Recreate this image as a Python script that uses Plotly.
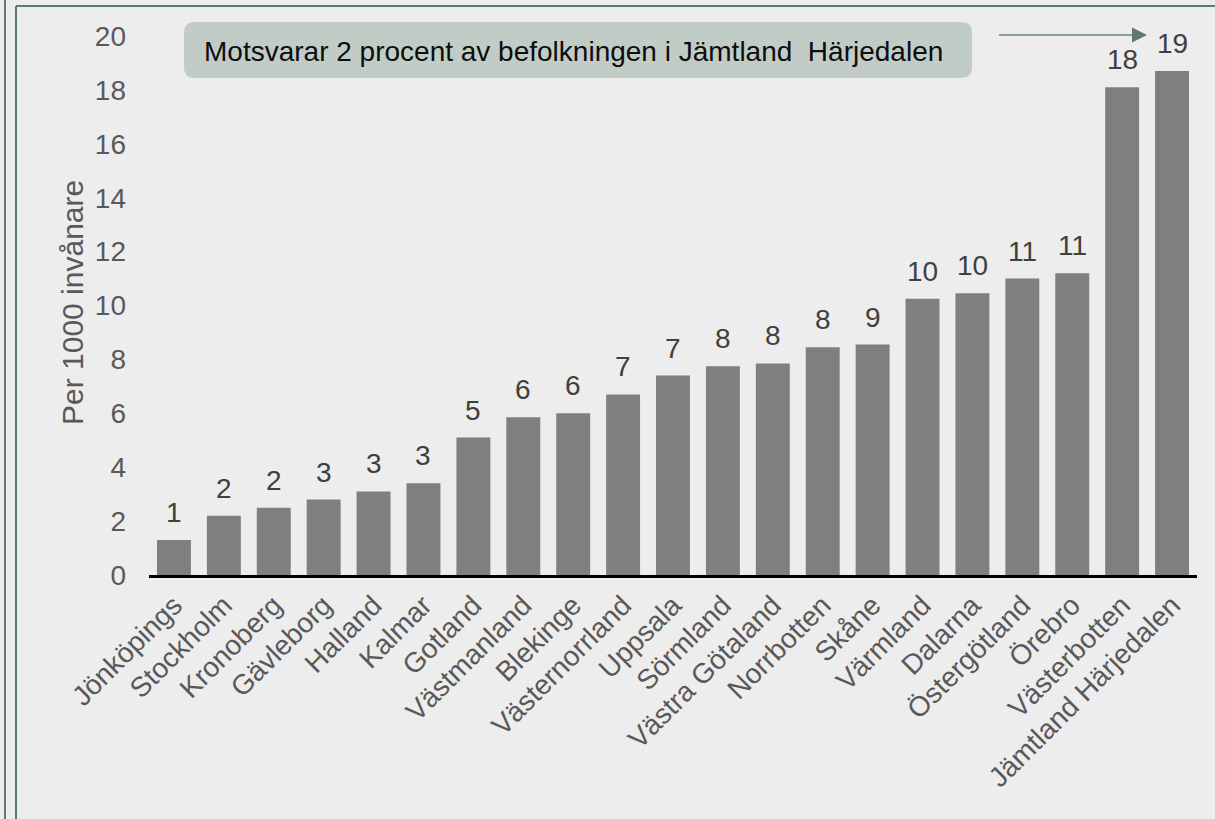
import plotly.graph_objects as go

# Data
regions = ["Jönköpings", "Stockholm", "Kronoberg", "Gävleborg", "Halland", "Kalmar",
           "Gotland", "Västmanland", "Blekinge", "Västernorrland", "Uppsala", "Sörmland",
           "Västra Götaland", "Norrbotten", "Skåne", "Värmland", "Dalarna",
           "Östergötland", "Örebro", "Västerbotten", "Jämtland Härjedalen"]
per_1000 = [1.3, 2.2, 2.5, 2.8, 3.1, 3.4, 5.1, 5.85, 6.0, 6.7, 7.4, 7.75, 7.85,
            8.45, 8.55, 10.25, 10.45, 11.0, 11.2, 18.1, 18.7]
bar_labels = ["1", "2", "2", "3", "3", "3", "5", "6", "6", "7", "7", "8", "8",
              "8", "9", "10", "10", "11", "11", "18", "19"]
y_ticks = list(range(0, 21, 2))

W, H = 1215, 819
L, R, T, B = 149, 1197, 36, 575   # plot area in pixels

FONT = "Liberation Sans, Arial, sans-serif"
GREY_TXT = "#595959"
FRAME = "#5f7870"


def px_x(px):
    return (px - L) / (R - L)


def px_y(py):
    return (B - py) / (B - T)


fig = go.Figure(go.Bar(
    x=regions,
    y=per_1000,
    marker=dict(color="#7f7f7f", line=dict(width=0)),
    width=0.68,
    hoverinfo="x+y",
))

annotations = []
for reg, val, lab in zip(regions, per_1000, bar_labels):
    annotations.append(dict(
        x=reg, y=val, xref="x", yref="y", text=lab, showarrow=False,
        yanchor="bottom", yshift=10,
        font=dict(family=FONT, size=28, color="#404040"),
    ))

# y-axis title
annotations.append(dict(
    x=px_x(72), y=px_y(303), xref="paper", yref="paper",
    xanchor="center", yanchor="middle",
    text="Per 1000 invånare", textangle=-90, showarrow=False,
    font=dict(family=FONT, size=30, color=GREY_TXT),
))

# callout text
annotations.append(dict(
    x=px_x(573), y=px_y(51), xref="paper", yref="paper",
    xanchor="center", yanchor="middle",
    text="Motsvarar 2 procent av befolkningen i Jämtland  Härjedalen",
    showarrow=False,
    font=dict(family=FONT, size=28, color="#0d0d0d"),
))

# arrow head
annotations.append(dict(
    x=px_x(1147), y=px_y(35), xref="paper", yref="paper",
    ax=-16, ay=0, text="", showarrow=True,
    arrowhead=2, arrowsize=1.5, arrowwidth=2, arrowcolor=FRAME,
))

# rounded callout box
x0, x1, y0, y1, r = 184, 972, 22, 78, 11
pts = [("M", (x0 + r, y0)), ("L", (x1 - r, y0)), ("Q", (x1, y0), (x1, y0 + r)),
       ("L", (x1, y1 - r)), ("Q", (x1, y1), (x1 - r, y1)), ("L", (x0 + r, y1)),
       ("Q", (x0, y1), (x0, y1 - r)), ("L", (x0, y0 + r)), ("Q", (x0, y0), (x0 + r, y0))]
path = ""
for cmd, *coords in pts:
    path += cmd + " ".join(f"{px_x(cx):.5f},{px_y(cy):.5f}" for cx, cy in coords)
path += " Z"

shapes = [
    dict(type="path", path=path, xref="paper", yref="paper",
         fillcolor="#c2ccc6", line=dict(width=0), layer="below"),
    # arrow shaft
    dict(type="line", xref="paper", yref="paper",
         x0=px_x(999), x1=px_x(1136), y0=px_y(35), y1=px_y(35),
         line=dict(color="#8a9e96", width=2)),
    # outer frame lines
    dict(type="line", xref="paper", yref="paper",
         x0=px_x(5), x1=px_x(5), y0=px_y(-5), y1=px_y(830),
         line=dict(color=FRAME, width=2)),
    dict(type="line", xref="paper", yref="paper",
         x0=px_x(16), x1=px_x(16), y0=px_y(6), y1=px_y(830),
         line=dict(color=FRAME, width=2)),
    dict(type="line", xref="paper", yref="paper",
         x0=px_x(16), x1=px_x(1230), y0=px_y(6), y1=px_y(6),
         line=dict(color=FRAME, width=2)),
]

fig.update_layout(
    width=W, height=H,
    margin=dict(l=L, r=W - R, t=T, b=H - B, autoexpand=False),
    paper_bgcolor="#ededed",
    plot_bgcolor="#ededed",
    showlegend=False,
    bargap=0.32,
    font=dict(family=FONT, size=28, color=GREY_TXT),
    annotations=annotations,
    shapes=shapes,
)

fig.update_xaxes(
    showline=True, linecolor="#000000", linewidth=2.5,
    showgrid=False, zeroline=False, ticks="",
    tickangle=-45, automargin=False,
    tickfont=dict(family=FONT, size=28, color=GREY_TXT),
)

fig.update_yaxes(
    range=[0, 20], tickvals=y_ticks, showgrid=False, zeroline=False,
    showline=False, ticks="", ticklabelstandoff=22, automargin=False,
    tickfont=dict(family=FONT, size=28, color=GREY_TXT),
)

fig.write_html(
    "out.html",
    config={"displayModeBar": False},
    post_script="document.body.style.margin='0';document.body.style.overflow='hidden';",
)
